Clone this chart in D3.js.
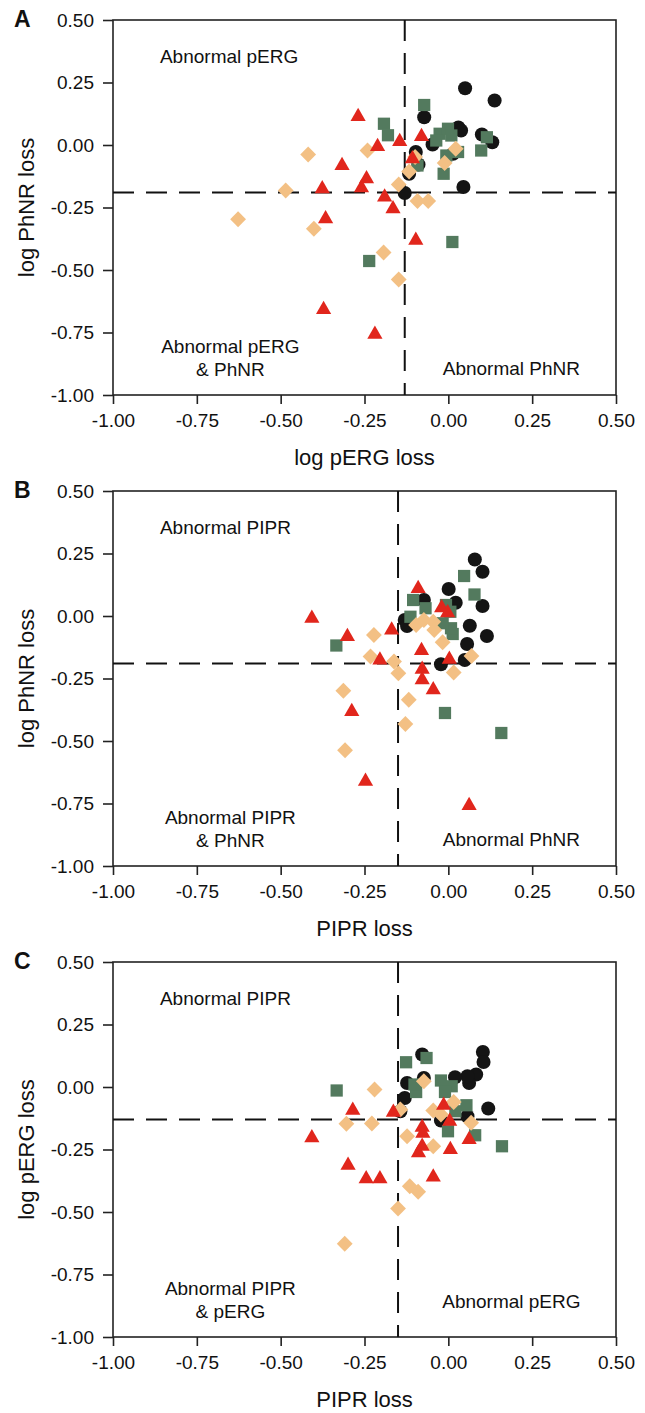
<!DOCTYPE html>
<html>
<head>
<meta charset="utf-8">
<script src="https://cdn.jsdelivr.net/npm/d3@7"></script>
<style>
  body { margin: 0; background: #fff; }
  svg { display: block; font-family: "Liberation Sans", Arial, sans-serif; }
</style>
</head>
<body>
<svg id="chart" width="645" height="1413"></svg>
<script>
const tickValues = [-1, -0.75, -0.5, -0.25, 0, 0.25, 0.5];

// Panel A: log pERG loss (x) vs log PhNR loss (y)
const aBlack = [[0.05, 0.227], [0.138, 0.178], [-0.072, 0.111], [0.03, 0.07], [0.038, 0.058], [0.1, 0.042], [0.131, 0.011], [-0.047, 0.002], [0.014, -0.035], [-0.097, -0.028], [-0.089, -0.078], [-0.117, -0.115], [-0.13, -0.192], [0.045, -0.168]];
const aGreen = [[-0.072, 0.16], [-0.192, 0.085], [-0.18, 0.039], [-0.026, 0.045], [-0.001, 0.065], [0.009, 0.038], [-0.036, 0.018], [0.115, 0.031], [0.098, -0.022], [0.029, -0.028], [-0.006, -0.042], [-0.014, -0.115], [-0.092, -0.082], [0.012, -0.388], [-0.236, -0.464]];
const aOrange = [[-0.418, -0.038], [-0.241, -0.022], [-0.485, -0.182], [-0.627, -0.297], [-0.401, -0.335], [-0.193, -0.43], [-0.148, -0.538], [-0.148, -0.158], [-0.117, -0.106], [-0.099, -0.048], [-0.092, -0.224], [-0.06, -0.224], [-0.011, -0.072], [0.022, -0.015]];
const aRed = [[-0.269, 0.114], [-0.145, 0.014], [-0.08, 0.034], [-0.211, -0.006], [-0.317, -0.082], [-0.107, -0.055], [-0.244, -0.135], [-0.259, -0.171], [-0.376, -0.175], [-0.19, -0.208], [-0.165, -0.255], [-0.366, -0.295], [-0.097, -0.381], [-0.372, -0.658], [-0.219, -0.757]];

// Panel B: PIPR loss (x) vs log PhNR loss (y)
const bBlack = [[0.079, 0.226], [0.102, 0.177], [0.001, 0.108], [-0.073, 0.064], [0.022, 0.053], [0.102, 0.04], [-0.13, -0.016], [-0.123, -0.04], [0.064, -0.039], [0.115, -0.08], [0.056, -0.112], [-0.022, -0.193], [0.049, -0.176]];
const bGreen = [[0.047, 0.16], [0.078, 0.086], [-0.105, 0.064], [-0.068, 0.031], [-0.007, 0.044], [0.006, 0.017], [0.013, -0.072], [0.008, -0.049], [-0.113, -0.003], [-0.017, -0.029], [-0.334, -0.118], [-0.01, -0.388], [0.158, -0.468]];
const bOrange = [[-0.222, -0.076], [-0.232, -0.162], [-0.162, -0.182], [-0.149, -0.229], [-0.313, -0.299], [-0.118, -0.335], [-0.128, -0.432], [-0.308, -0.537], [-0.096, -0.036], [-0.073, -0.016], [-0.045, -0.023], [-0.042, -0.056], [-0.017, -0.105], [0.016, -0.226], [0.069, -0.16]];
const bRed = [[-0.407, -0.009], [-0.09, 0.11], [-0.02, 0.033], [-0.002, 0.013], [-0.169, -0.056], [-0.301, -0.082], [-0.204, -0.176], [-0.08, -0.138], [0.003, -0.173], [-0.078, -0.213], [-0.078, -0.255], [-0.045, -0.295], [-0.288, -0.382], [-0.247, -0.661], [0.062, -0.758]];

// Panel C: PIPR loss (x) vs log pERG loss (y)
const cBlack = [[0.103, 0.14], [0.105, 0.1], [-0.078, 0.13], [0.083, 0.05], [0.062, 0.016], [0.057, 0.043], [0.02, 0.039], [-0.073, 0.036], [-0.123, 0.016], [-0.13, -0.044], [-0.143, -0.097], [0.119, -0.086], [0.057, -0.117], [-0.022, -0.134]];
const cGreen = [[-0.126, 0.099], [-0.065, 0.116], [-0.333, -0.014], [-0.096, -0.02], [-0.101, 0.01], [-0.022, 0.026], [0.01, 0.003], [-0.01, -0.02], [0.054, -0.073], [0.021, -0.097], [-0.001, -0.177], [0.08, -0.193], [0.16, -0.237]];
const cOrange = [[-0.22, -0.01], [-0.073, 0.023], [0.016, -0.06], [-0.304, -0.147], [-0.228, -0.146], [-0.143, -0.09], [-0.123, -0.197], [-0.045, -0.094], [-0.022, -0.11], [-0.045, -0.237], [0.068, -0.143], [-0.115, -0.397], [-0.09, -0.419], [-0.15, -0.486], [-0.309, -0.627]];
const cRed = [[-0.407, -0.203], [-0.285, -0.093], [-0.164, -0.101], [-0.014, -0.073], [0.004, -0.137], [-0.078, -0.161], [-0.076, -0.185], [-0.078, -0.237], [-0.089, -0.263], [0.006, -0.25], [0.062, -0.21], [-0.299, -0.313], [-0.245, -0.367], [-0.204, -0.367], [-0.045, -0.36]];

const panels = [
  {
    letter: "A", top: 20, xTitle: "log pERG loss", yTitle: "log PhNR loss",
    xCut: -0.13, yCut: -0.19,
    series: [aBlack, aGreen, aOrange, aRed],
    notes: [["Abnormal pERG"], ["Abnormal pERG", "& PhNR"], ["Abnormal PhNR"]]
  },
  {
    letter: "B", top: 491, xTitle: "PIPR loss", yTitle: "log PhNR loss",
    xCut: -0.15, yCut: -0.19,
    series: [bBlack, bGreen, bOrange, bRed],
    notes: [["Abnormal PIPR"], ["Abnormal PIPR", "& PhNR"], ["Abnormal PhNR"]]
  },
  {
    letter: "C", top: 962, xTitle: "PIPR loss", yTitle: "log pERG loss",
    xCut: -0.15, yCut: -0.13,
    series: [cBlack, cGreen, cOrange, cRed],
    notes: [["Abnormal PIPR"], ["Abnormal PIPR", "& pERG"], ["Abnormal pERG"]]
  }
];

const styles = [
  { shape: d3.symbolCircle, size: 155, fill: "#141414", rotate: 0 },
  { shape: d3.symbolSquare, size: 150, fill: "#537a5e", rotate: 0 },
  { shape: d3.symbolSquare, size: 125, fill: "#f3c084", rotate: 45 },
  { shape: d3.symbolTriangle, size: 100, fill: "#e1261c", rotate: 0 }
];

const left = 113, right = 616, plotH = 375;
const svg = d3.select("#chart");
const fmt = (d) => d.toFixed(2); // plain hyphen minus, like the original

panels.forEach((p) => {
  const x = d3.scaleLinear().domain([-1, 0.5]).range([left, right]);
  const y = d3.scaleLinear().domain([-1, 0.5]).range([p.top + plotH, p.top]);
  const g = svg.append("g");

  const xAxis = d3.axisBottom(x).tickValues(tickValues).tickFormat(fmt).tickSize(9).tickPadding(10).tickSizeOuter(0);
  const yAxis = d3.axisLeft(y).tickValues(tickValues).tickFormat(fmt).tickSize(10).tickPadding(9).tickSizeOuter(0);

  // box
  g.append("rect")
    .attr("x", left)
    .attr("y", p.top)
    .attr("width", right - left)
    .attr("height", plotH)
    .attr("fill", "none")
    .attr("stroke", "#222")
    .attr("stroke-width", 1.6);

  // quadrant cut lines
  g.append("line")
    .attr("x1", x(p.xCut)).attr("x2", x(p.xCut))
    .attr("y1", y(0.5)).attr("y2", y(-1))
    .attr("stroke", "#111").attr("stroke-width", 2).attr("stroke-dasharray", "21,12");
  g.append("line")
    .attr("x1", x(-1)).attr("x2", x(0.5))
    .attr("y1", y(p.yCut)).attr("y2", y(p.yCut))
    .attr("stroke", "#111").attr("stroke-width", 2).attr("stroke-dasharray", "21,12");

  // points
  p.series.forEach((pts, i) => {
    const s = styles[i];
    g.append("g")
      .selectAll("path")
      .data(pts)
      .enter()
      .append("path")
      .attr("d", d3.symbol().type(s.shape).size(s.size))
      .attr("transform", (d) => `translate(${x(d[0])},${y(d[1])}) rotate(${s.rotate})`)
      .attr("fill", s.fill);
  });

  const xg = g.append("g").attr("transform", `translate(0,${p.top + plotH})`).call(xAxis);
  const yg = g.append("g").attr("transform", `translate(${left},0)`).call(yAxis);
  [xg, yg].forEach((ag) => {
    ag.select(".domain").remove();
    ag.selectAll("line").attr("stroke", "#222").attr("stroke-width", 1.6);
    ag.selectAll("text").attr("fill", "#111").style("font-size", "19px").attr("font-family", "Liberation Sans, Arial, sans-serif");
  });

  // quadrant notes
  const noteStyle = (t) => t.style("font-size", "19px").attr("fill", "#111");
  noteStyle(g.append("text")
    .attr("x", x(-0.86))
    .attr("y", y(0.33))
    .text(p.notes[0][0]));
  const bl = g.append("text").attr("text-anchor", "middle");
  noteStyle(bl);
  bl.append("tspan").attr("x", x(-0.65)).attr("y", y(-0.83)).text(p.notes[1][0]);
  bl.append("tspan").attr("x", x(-0.65)).attr("y", y(-0.925)).text(p.notes[1][1]);
  noteStyle(g.append("text")
    .attr("text-anchor", "middle")
    .attr("x", x(0.188))
    .attr("y", y(p.letter === "C" ? -0.885 : -0.918))
    .text(p.notes[2][0]));

  // titles
  g.append("text")
    .attr("x", (left + right) / 2)
    .attr("y", p.top + plotH + 70)
    .attr("text-anchor", "middle")
    .style("font-size", "22px")
    .attr("fill", "#111")
    .text(p.xTitle);
  g.append("text")
    .attr("transform", `translate(34,${p.top + plotH / 2}) rotate(-90)`)
    .attr("text-anchor", "middle")
    .style("font-size", "22px")
    .attr("fill", "#111")
    .text(p.yTitle);

  g.append("text")
    .attr("x", 14)
    .attr("y", p.top + 7)
    .style("font-size", "23px")
    .style("font-weight", "bold")
    .attr("fill", "#111")
    .text(p.letter);
});
</script>
</body>
</html>
